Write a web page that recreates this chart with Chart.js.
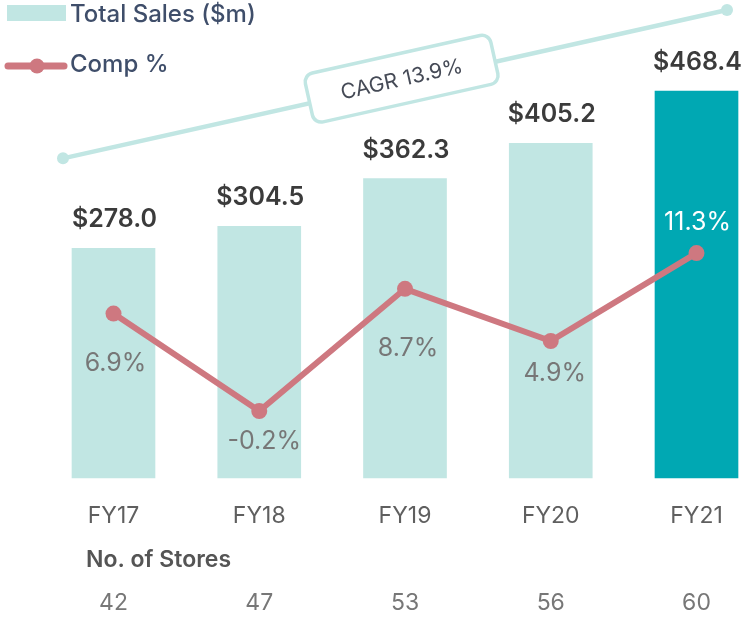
<!DOCTYPE html>
<html>
<head>
<meta charset="utf-8">
<script src="https://cdn.jsdelivr.net/npm/chart.js@4"></script>
<style>
  html, body { margin: 0; padding: 0; background: #fff; }
</style>
</head>
<body>
<canvas id="sales-chart" width="744" height="617"></canvas>
<script>
var YEARS = ["FY17", "FY18", "FY19", "FY20", "FY21"];
var SALES = [278.0, 304.5, 362.3, 405.2, 468.4];
var COMP = [6.9, -0.2, 8.7, 4.9, 11.3];
var STORES = [42, 47, 53, 56, 60];
var CAGR = 13.9;

var LIGHT_TEAL = "#C1E6E3";
var DARK_TEAL = "#00A8B3";
var ROSE = "#CE7880";
var SLATE = "#3F4E6A";
var DARK_GREY = "#3b3b3b";
var MID_GREY = "#777777";

var FONT = "Inter, 'Liberation Sans', sans-serif";

// label nudges (px from the point) for the comp % labels
var COMP_DY = [50, 30, 60, 32, -31];
var COMP_DX = [2, 5, 3, 4, 1];

function barColors() {
  return SALES.map(function (v, i) { return i === SALES.length - 1 ? DARK_TEAL : LIGHT_TEAL; });
}

var extras = {
  id: "extras",
  beforeDatasetsDraw: function (chart) {
    var ctx = chart.ctx;
    var x = chart.scales.x, y = chart.scales.y;
    // CAGR trend line
    var x0 = x.getPixelForValue(0) - 50.5, y0 = y.getPixelForValue(SALES[0]) - 90;
    var n = SALES.length - 1;
    var x1 = x.getPixelForValue(n) + 30.5, y1 = y.getPixelForValue(SALES[n]) - 81;
    ctx.save();
    ctx.strokeStyle = LIGHT_TEAL;
    ctx.fillStyle = LIGHT_TEAL;
    ctx.lineWidth = 4.5;
    ctx.beginPath(); ctx.moveTo(x0, y0); ctx.lineTo(x1, y1); ctx.stroke();
    [[x0, y0], [x1, y1]].forEach(function (p) {
      ctx.beginPath(); ctx.arc(p[0], p[1], 6, 0, Math.PI * 2); ctx.fill();
    });
    // rotated label box
    var ang = Math.atan2(y1 - y0, x1 - x0);
    var cx = x0 + (x1 - x0) * 0.51, cy = y0 + (y1 - y0) * 0.51 - 4;
    ctx.translate(cx, cy);
    ctx.rotate(ang);
    var w = 190, h = 50, r = 9;
    ctx.beginPath();
    ctx.roundRect(-w / 2, -h / 2, w, h, r);
    ctx.fillStyle = "#fff";
    ctx.fill();
    ctx.lineWidth = 3.5;
    ctx.stroke();
    ctx.fillStyle = "#454a56";
    ctx.font = "400 21px " + FONT;
    ctx.textAlign = "center";
    ctx.textBaseline = "middle";
    ctx.fillText("CAGR " + CAGR.toFixed(1) + "%", 0, 1);
    ctx.restore();
  },
  afterDatasetsDraw: function (chart) {
    var ctx = chart.ctx;
    var x = chart.scales.x, y = chart.scales.y, y2 = chart.scales.y1;
    ctx.save();
    ctx.textAlign = "center";
    ctx.textBaseline = "alphabetic";
    // sales values above bars
    ctx.font = "600 25px " + FONT;
    ctx.fillStyle = DARK_GREY;
    SALES.forEach(function (v, i) {
      ctx.fillText("$" + v.toFixed(1), x.getPixelForValue(i) + 1, y.getPixelForValue(v) - 21);
    });
    // comp % labels
    ctx.font = "400 25px " + FONT;
    ctx.textBaseline = "middle";
    COMP.forEach(function (v, i) {
      ctx.fillStyle = i === COMP.length - 1 ? "#ffffff" : MID_GREY;
      ctx.fillText(v.toFixed(1) + "%", x.getPixelForValue(i) + COMP_DX[i], y2.getPixelForValue(v) + COMP_DY[i]);
    });
    // category labels
    ctx.textBaseline = "alphabetic";
    ctx.font = "400 23px " + FONT;
    ctx.fillStyle = "#5f5f5f";
    YEARS.forEach(function (t, i) {
      ctx.fillText(t, x.getPixelForValue(i), 523);
    });
    // stores row
    ctx.textAlign = "left";
    ctx.font = "600 23px " + FONT;
    ctx.fillStyle = "#555555";
    ctx.fillText("No. of Stores", 86, 567);
    ctx.textAlign = "center";
    ctx.font = "400 23px " + FONT;
    ctx.fillStyle = MID_GREY;
    STORES.forEach(function (s, i) {
      ctx.fillText(String(s), x.getPixelForValue(i), 610);
    });
    // legend
    ctx.fillStyle = LIGHT_TEAL;
    ctx.fillRect(7, 5, 59, 16);
    ctx.strokeStyle = ROSE;
    ctx.lineWidth = 7;
    ctx.lineCap = "round";
    ctx.beginPath(); ctx.moveTo(8, 66); ctx.lineTo(64, 66); ctx.stroke();
    ctx.fillStyle = ROSE;
    ctx.beginPath(); ctx.arc(37, 66, 7.5, 0, Math.PI * 2); ctx.fill();
    ctx.textAlign = "left";
    ctx.textBaseline = "middle";
    ctx.font = "500 24px " + FONT;
    ctx.fillStyle = SLATE;
    ctx.fillText("Total Sales ($m)", 70, 15);
    ctx.fillText("Comp %", 70, 65);
    ctx.restore();
  }
};

var ctx = document.getElementById("sales-chart").getContext("2d");
var salesChart = new Chart(ctx, {
  type: "bar",
  data: {
    labels: YEARS,
    datasets: [{
      type: "line",
      label: "Comp %",
      data: COMP,
      yAxisID: "y1",
      borderColor: ROSE,
      backgroundColor: ROSE,
      borderWidth: 6,
      pointRadius: 8,
      pointHoverRadius: 8,
      pointBackgroundColor: ROSE,
      pointBorderWidth: 0,
      tension: 0,
      clip: false,
      order: 0
    }, {
      label: "Total Sales ($m)",
      data: SALES,
      yAxisID: "y",
      backgroundColor: barColors(),
      barThickness: 83,
      clip: false,
      order: 1
    }]
  },
  options: {
    responsive: false,
    animation: false,
    layout: { padding: { left: 113.5, right: 47.5, top: 8, bottom: 139 } },
    plugins: { legend: { display: false }, tooltip: { enabled: false } },
    scales: {
      x: { display: false, offset: false, grid: { display: false } },
      y: { display: false, min: 0, max: 568.9 },
      y1: { display: false, position: "right", min: -5.07, max: 29.14 }
    }
  },
  plugins: [extras]
});
</script>
</body>
</html>
